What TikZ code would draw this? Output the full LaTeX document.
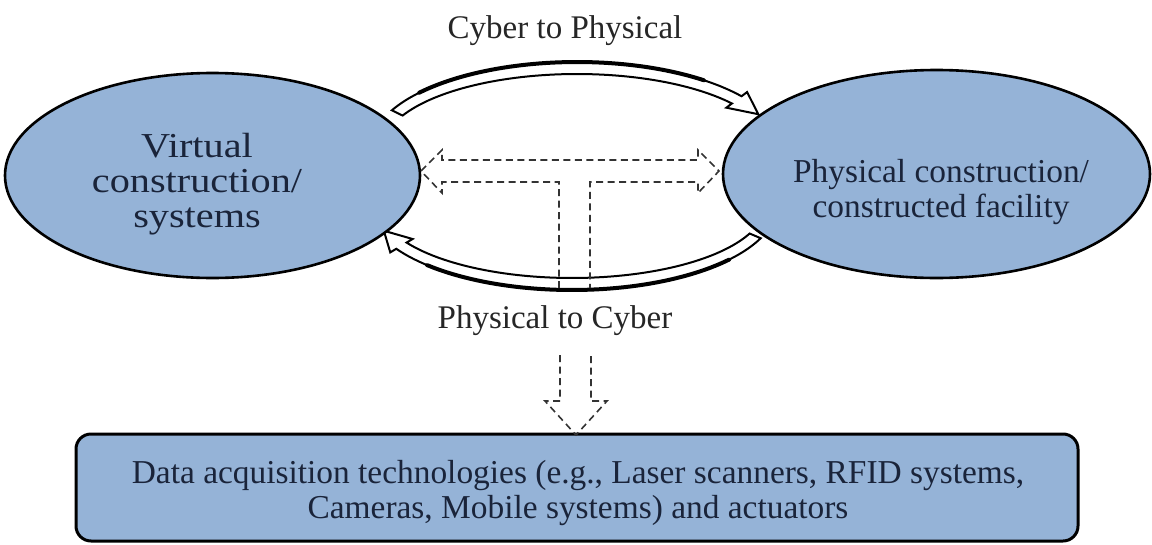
\documentclass[tikz,border=0pt]{standalone}
\usepackage{fontspec}
\setmainfont{Liberation Serif}
\usetikzlibrary{shapes.geometric}
\definecolor{cellblue}{RGB}{149,179,215}
\definecolor{inktext}{RGB}{26,36,58}

% Curved block arrow following an elliptical guide.
% #1,#2 centre of the guide, #3,#4 its radii, #5 tail angle,
% #6 angle where the head starts, #7 tip angle,
% #8 half width of the body, #9 half width of the head.
\newcommand\curvedblock[9]{%
  \filldraw[blockline]
    plot[domain=#5:#6, samples=60] ({#1+(#3+#8)*cos(\x)},{#2-(#4+#8)*sin(\x)})
    -- ({#1+(#3+#9)*cos(#6)},{#2-(#4+#9)*sin(#6)})
    -- ({#1+#3*cos(#7)},{#2-#4*sin(#7)})
    -- ({#1+(#3-#9)*cos(#6)},{#2-(#4-#9)*sin(#6)})
    -- plot[domain=#6:#5, samples=60] ({#1+(#3-#8)*cos(\x)},{#2-(#4-#8)*sin(\x)})
    -- cycle;
}

\begin{document}
\begin{tikzpicture}[x=1pt,y=-1pt,
  blob/.style={ellipse, draw=black, line width=2.6pt, fill=cellblue, inner sep=0pt},
  panel/.style={rectangle, rounded corners=15pt, draw=black, line width=3pt, fill=cellblue, inner sep=0pt},
  bodytext/.style={font=\fontsize{33.4}{35}\selectfont, text=inktext, align=center, inner sep=0pt},
  caption/.style={font=\fontsize{33}{35}\selectfont, text=black!85, inner sep=0pt, anchor=base},
  blockline/.style={draw=black, line width=2pt, fill=white, line join=miter},
  rimline/.style={draw=black, line width=4pt, line cap=round},
  dashline/.style={draw=black!80, line width=1.6pt, dash pattern=on 7pt off 4.5pt},
]
\useasboundingbox (0,0) rectangle (1152,544);

% cyber to physical (upper) and physical to cyber (lower) arrows
\curvedblock{577}{148}{200}{80}{154}{37}{25}{6}{13}
\draw[rimline] plot[domain=140:52, samples=50] ({577+206*cos(\x)},{148-86*sin(\x)});
\curvedblock{572}{205}{199}{79}{-23}{-149}{-161}{6}{13}
\draw[rimline] plot[domain=-40:-135, samples=50] ({572+205*cos(\x)},{205-85*sin(\x)});

% the two domains
\node[blob, minimum width=415pt, minimum height=205pt] (virt) at (212.5,175.5) {};
\node[blob, minimum width=427pt, minimum height=208pt] (phys) at (936.5,174) {};
\node[bodytext, font=\fontsize{35}{35}\selectfont, xscale=1.15] (virtlbl) at (197,184) {Virtual\\construction/\\systems};
\node[bodytext] (physlbl) at (941,192.5) {Physical construction/\\constructed facility};

% data acquisition layer
\node[panel, minimum width=1002pt, minimum height=107pt] (daq) at (577,487.5) {};
\node[bodytext] (daqlbl) at (578,493) {Data acquisition technologies (e.g., Laser scanners, RFID systems,\\Cameras, Mobile systems) and actuators};

% captions
\node[caption] (c2p) at (565,38) {Cyber to Physical};
\node[caption] (p2c) at (555,328) {Physical to Cyber};

% dashed two-way exchange with its stem
\draw[dashline] (559,288) -- (559,182) -- (442,182) -- (442,193) -- (421,171)
  -- (442,150) -- (442,160) -- (698,160) -- (698,150) -- (719,171)
  -- (698,193) -- (698,182) -- (590,182) -- (590,288);

% dashed arrow down to the acquisition layer
\draw[dashline] (560,355) -- (560,401) -- (545,401) -- (576,435)
  -- (607,401) -- (591,401) -- (591,355);
\end{tikzpicture}
\end{document}
